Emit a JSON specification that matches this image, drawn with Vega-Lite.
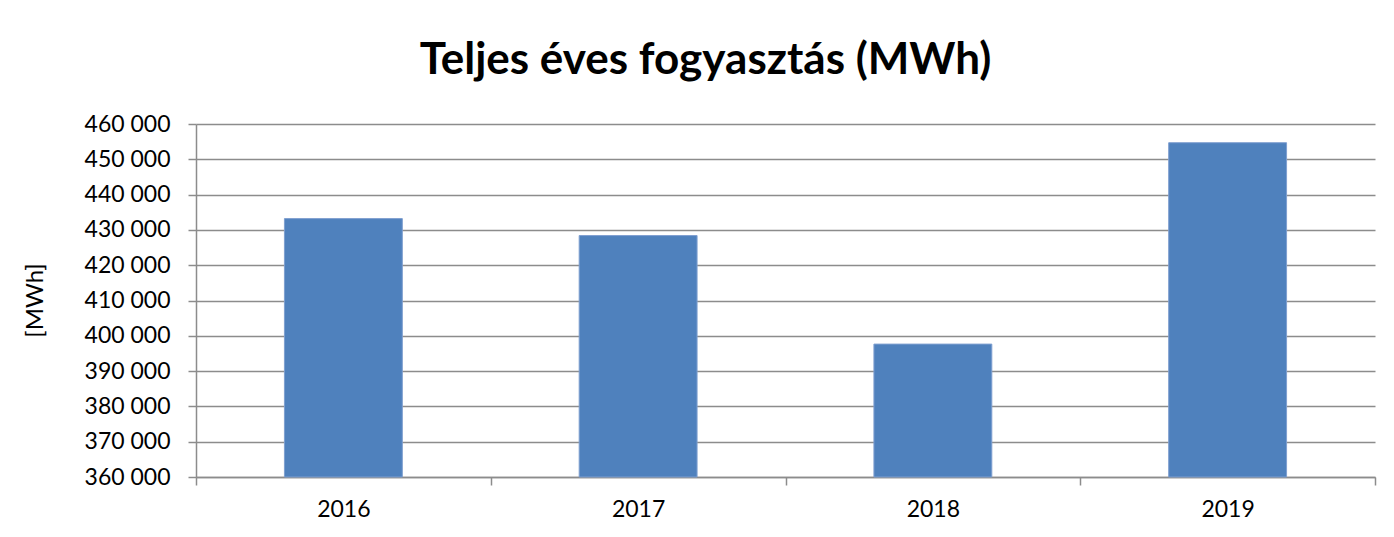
{
  "$schema": "https://vega.github.io/schema/vega-lite/v6.json",
  "autosize": {"type": "none"},
  "padding": {"left": 196, "top": 124, "right": 19, "bottom": 60},
  "width": 1179,
  "height": 353,
  "background": "white",
  "title": {
    "text": "Teljes éves fogyasztás (MWh)",
    "font": "Lato",
    "fontSize": 44,
    "fontWeight": "bold",
    "color": "#000000",
    "anchor": "middle",
    "frame": "group",
    "dx": -80,
    "dy": 41,
    "baseline": "alphabetic",
    "offset": 36
  },
  "data": {
    "values": [
      {"year": "2016", "value": 433200},
      {"year": "2017", "value": 428400},
      {"year": "2018", "value": 397650},
      {"year": "2019", "value": 454700}
    ]
  },
  "mark": {"type": "bar", "color": "#4f81bd", "stroke": "#7f9fd0", "strokeWidth": 1, "width": {"band": 0.4}},
  "encoding": {
    "x": {
      "field": "year",
      "type": "ordinal",
      "scale": {"paddingInner": 0, "paddingOuter": 0},
      "axis": {
        "title": null,
        "labelAngle": 0,
        "tickBand": "extent",
        "grid": false,
        "domainColor": "#8c8c8c",
        "domainWidth": 1.5,
        "tickColor": "#8c8c8c",
        "tickWidth": 1.5,
        "tickSize": 8,
        "labelFont": "Lato",
        "labelFontSize": 23,
        "labelColor": "#000000",
        "labelPadding": 13
      }
    },
    "y": {
      "field": "value",
      "type": "quantitative",
      "scale": {"domain": [360000, 460000], "nice": false, "zero": false},
      "axis": {
        "title": "[MWh]",
        "titleFont": "Lato",
        "titleFontSize": 24,
        "titleFontWeight": "normal",
        "titleColor": "#000000",
        "titleX": -149,
        "titleY": 176,
        "values": [360000, 370000, 380000, 390000, 400000, 410000, 420000, 430000, 440000, 450000, 460000],
        "labelExpr": "format(datum.value / 1000, 'd') + ' 000'",
        "labelFont": "Lato",
        "labelFontSize": 23,
        "labelColor": "#000000",
        "labelPadding": 18,
        "tickSize": 8,
        "tickColor": "#8c8c8c",
        "tickWidth": 1.5,
        "domainColor": "#8c8c8c",
        "domainWidth": 1.5,
        "gridColor": "#8c8c8c",
        "gridWidth": 1.5
      }
    },
    "y2": {"datum": 360000}
  },
  "config": {"view": {"stroke": null}}
}
